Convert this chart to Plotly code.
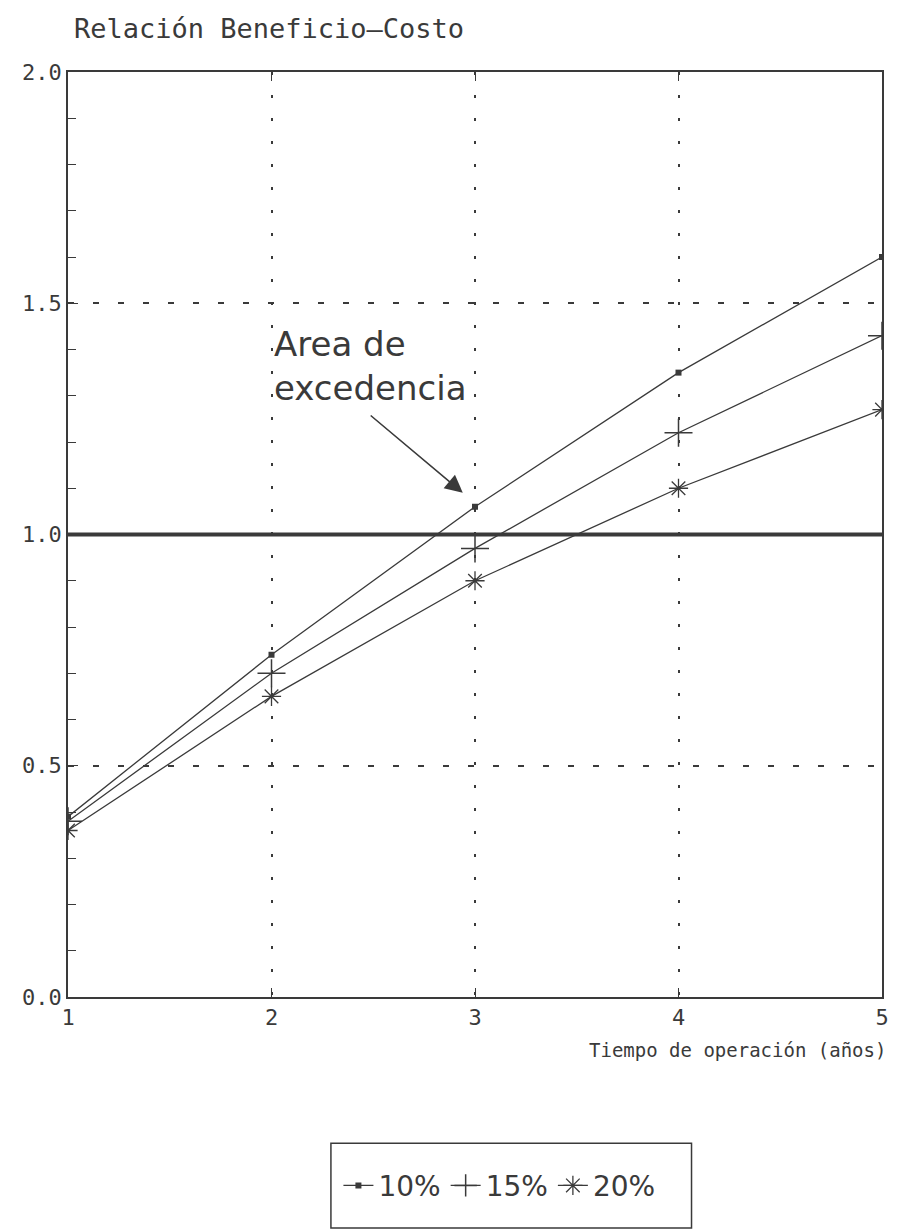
import plotly.graph_objects as go

years = [1, 2, 3, 4, 5]
r10 = [0.39, 0.74, 1.06, 1.35, 1.60]
r15 = [0.38, 0.70, 0.97, 1.22, 1.43]
r20 = [0.36, 0.65, 0.90, 1.10, 1.27]
series_names = ["10%", "15%", "20%"]
ytick_vals = [0.0, 0.5, 1.0, 1.5, 2.0]
threshold = 1.0

INK = "#3a3a3a"
MONO = "DejaVu Sans Mono"

fig = go.Figure()
fig.add_trace(go.Scatter(x=years, y=r10, name=series_names[0], mode="lines+markers",
                         line=dict(color=INK, width=1.3),
                         marker=dict(symbol="square", size=6, color=INK)))
fig.add_trace(go.Scatter(x=years, y=r15, name=series_names[1], mode="lines+markers",
                         line=dict(color=INK, width=1.3),
                         marker=dict(symbol="cross-thin-open", size=20,
                                     line=dict(color=INK, width=1.5))))
fig.add_trace(go.Scatter(x=years, y=r20, name=series_names[2], mode="lines+markers",
                         line=dict(color=INK, width=1.3),
                         marker=dict(symbol="asterisk-open", size=16,
                                     line=dict(color=INK, width=1.3))))

# threshold line
fig.add_shape(type="line", xref="x", yref="y", x0=years[0], x1=years[-1],
              y0=threshold, y1=threshold, line=dict(color=INK, width=4), layer="above")

# legend box
fig.add_shape(type="rect", xref="paper", yref="paper", x0=0.323, x1=0.766,
              y0=-0.2497, y1=-0.158, line=dict(color=INK, width=1.5))

fig.update_layout(
    width=899, height=1232,
    margin=dict(l=68, r=10, t=72, b=235),
    plot_bgcolor="white", paper_bgcolor="white",
    showlegend=True,
    legend=dict(orientation="h", x=0.530, y=-0.204, xanchor="center", yanchor="middle",
                font=dict(family="DejaVu Sans", size=28, color=INK),
                bgcolor="rgba(0,0,0,0)", itemwidth=30, tracegroupgap=0),
    xaxis=dict(range=[1, 5], tickvals=years, ticktext=[str(v) for v in years],
               showline=True, linecolor=INK, linewidth=1.5, mirror="ticks",
               ticks="inside", ticklen=9, tickcolor=INK,
               showgrid=True, gridcolor=INK, gridwidth=1.5, griddash="3px,20px",
               zeroline=False,
               tickfont=dict(family=MONO, size=22, color=INK)),
    yaxis=dict(range=[0, 2.0], tickvals=ytick_vals, tickformat=".1f",
               showline=True, linecolor=INK, linewidth=1.5, mirror=True,
               ticks="inside", ticklen=10, tickcolor=INK,
               minor=dict(dtick=0.1, ticks="inside", ticklen=8, tickcolor=INK, showgrid=False),
               showgrid=True, gridcolor=INK, gridwidth=1.5, griddash="6px,19px",
               zeroline=False,
               tickfont=dict(family=MONO, size=22, color=INK)),
    annotations=[
        dict(text="Relación Beneficio—Costo", xref="paper", yref="paper",
             x=0.0, y=1.0, xanchor="left", yanchor="bottom", yshift=26, xshift=4,
             showarrow=False, font=dict(family=MONO, size=27, color=INK)),
        dict(text="Tiempo de operación (años)", xref="paper", yref="paper",
             x=1.0, y=0.0, xanchor="right", yanchor="top", yshift=-40, xshift=6,
             showarrow=False, font=dict(family=MONO, size=19, color=INK)),
        dict(text="Area de<br>excedencia", xref="x", yref="y",
             x=2.0, y=1.365, xanchor="left", yanchor="middle", align="left",
             showarrow=False, font=dict(family="DejaVu Sans", size=34, color=INK)),
        dict(text="", xref="x", yref="y", x=2.94, y=1.09, axref="x", ayref="y",
             ax=2.48, ay=1.26, showarrow=True, arrowhead=2, arrowsize=2.2,
             arrowwidth=1.6, arrowcolor=INK),
    ],
)

fig.write_html("out.html", config={"displayModeBar": False},
               post_script="document.body.style.margin='0';document.body.style.overflow='hidden';")
